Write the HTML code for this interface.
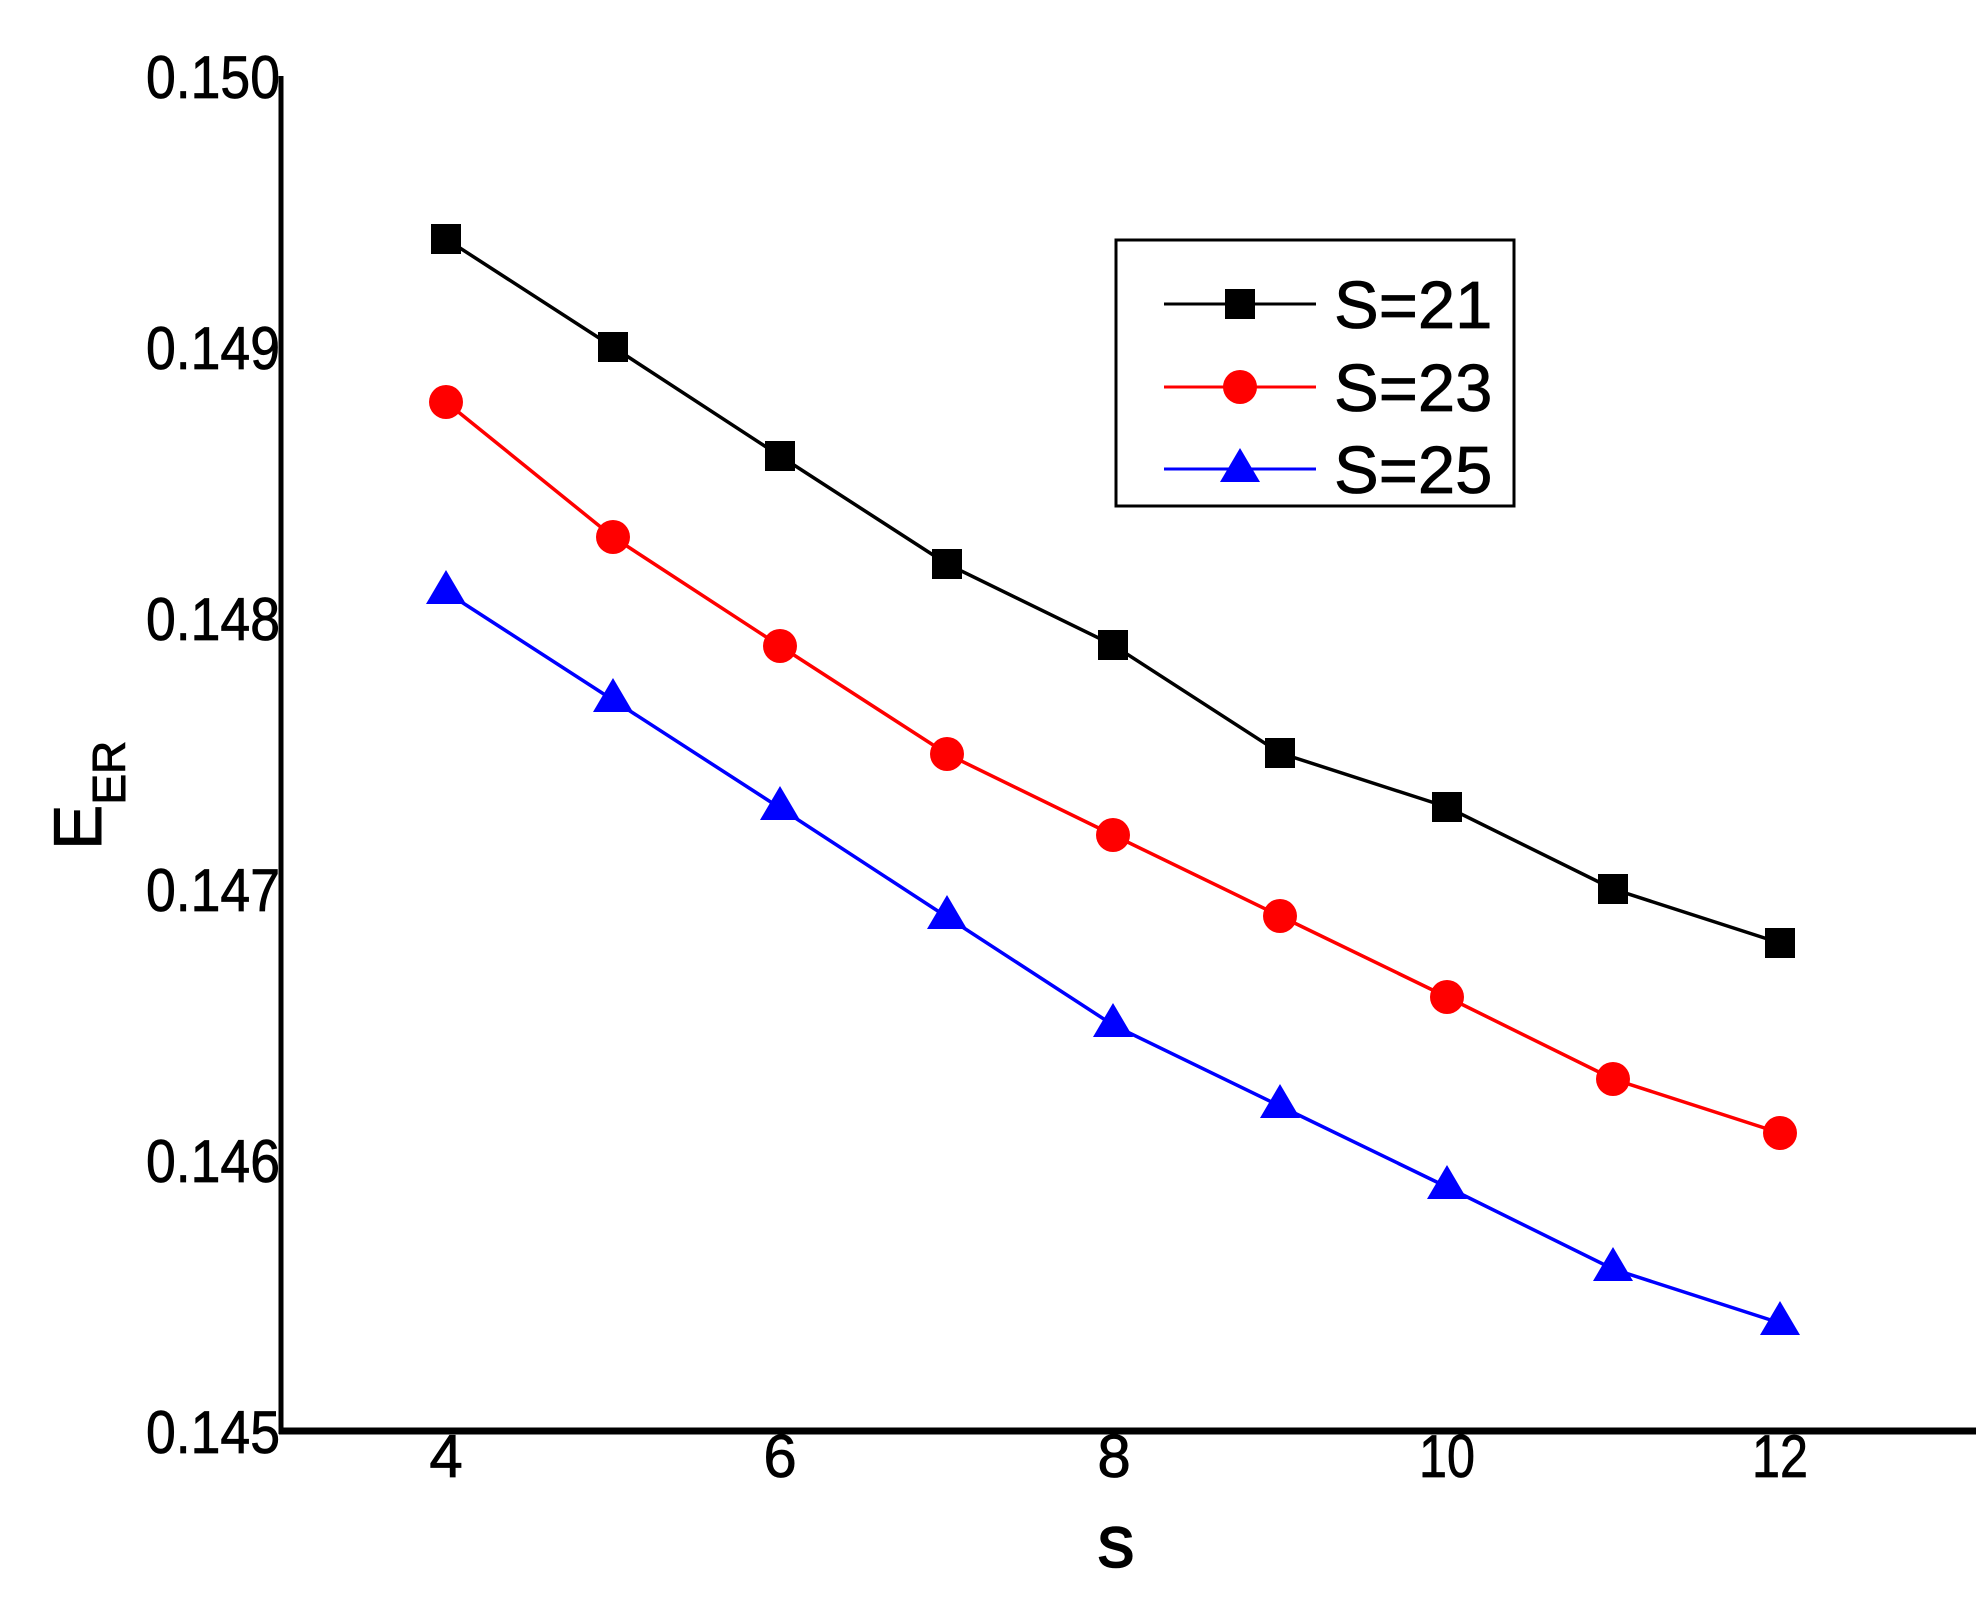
<!DOCTYPE html>
<html><head><meta charset="utf-8"><style>
html,body{margin:0;padding:0;background:#fff;}
svg{display:block;}
text{font-family:"Liberation Sans",Arial,sans-serif;fill:#000;}
</style></head><body>
<svg width="1981" height="1604" viewBox="0 0 1981 1604" xmlns="http://www.w3.org/2000/svg">
<defs>
<rect id="sq" x="-15" y="-15" width="30" height="30" fill="#000"/>
<circle id="ci" r="17" fill="#f00"/>
<polygon id="tr" points="-20,12 20,12 0,-22" fill="#00f"/>
</defs>
<line x1="281" y1="76" x2="281" y2="1434" stroke="#000" stroke-width="5"/>
<line x1="279" y1="1431" x2="1976" y2="1431" stroke="#000" stroke-width="7"/>
<g font-size="60" text-anchor="end" stroke="#000" stroke-width="0.8">
<text x="280" y="98" textLength="134" lengthAdjust="spacingAndGlyphs">0.150</text>
<text x="280" y="369" textLength="134" lengthAdjust="spacingAndGlyphs">0.149</text>
<text x="280" y="640" textLength="134" lengthAdjust="spacingAndGlyphs">0.148</text>
<text x="280" y="911" textLength="134" lengthAdjust="spacingAndGlyphs">0.147</text>
<text x="280" y="1182" textLength="134" lengthAdjust="spacingAndGlyphs">0.146</text>
<text x="280" y="1453" textLength="134" lengthAdjust="spacingAndGlyphs">0.145</text>
</g>
<g font-size="60" text-anchor="middle" stroke="#000" stroke-width="0.8">
<text x="446" y="1477">4</text>
<text x="780" y="1477">6</text>
<text x="1114" y="1477">8</text>
<text x="1447" y="1477" textLength="56" lengthAdjust="spacingAndGlyphs">10</text>
<text x="1780" y="1477" textLength="56" lengthAdjust="spacingAndGlyphs">12</text>
</g>
<text x="1116" y="1567" font-size="74" text-anchor="middle" stroke="#000" stroke-width="1.5">s</text>
<g transform="translate(101,850) rotate(-90)">
<text x="0" y="0" font-size="68" stroke="#000" stroke-width="1">E<tspan font-size="46" dy="24">ER</tspan></text>
</g>
<g fill="none" stroke-width="3.5">
<polyline stroke="#000" points="446,239 613,347 780,456 947,564 1113,645 1280,753 1447,807 1613,889 1780,943"/>
<polyline stroke="#f00" points="446,402 613,537 780,646 947,754 1113,835 1280,916 1447,997 1613,1079 1780,1133"/>
<polyline stroke="#00f" points="446,592 613,700 780,808 947,917 1113,1025 1280,1106 1447,1187 1613,1269 1780,1323"/>
</g>
<g>
<use href="#sq" x="446" y="239"/><use href="#sq" x="613" y="347"/><use href="#sq" x="780" y="456"/><use href="#sq" x="947" y="564"/><use href="#sq" x="1113" y="645"/><use href="#sq" x="1280" y="753"/><use href="#sq" x="1447" y="807"/><use href="#sq" x="1613" y="889"/><use href="#sq" x="1780" y="943"/>
<use href="#ci" x="446" y="402"/><use href="#ci" x="613" y="537"/><use href="#ci" x="780" y="646"/><use href="#ci" x="947" y="754"/><use href="#ci" x="1113" y="835"/><use href="#ci" x="1280" y="916"/><use href="#ci" x="1447" y="997"/><use href="#ci" x="1613" y="1079"/><use href="#ci" x="1780" y="1133"/>
<use href="#tr" x="446" y="592"/><use href="#tr" x="613" y="700"/><use href="#tr" x="780" y="808"/><use href="#tr" x="947" y="917"/><use href="#tr" x="1113" y="1025"/><use href="#tr" x="1280" y="1106"/><use href="#tr" x="1447" y="1187"/><use href="#tr" x="1613" y="1269"/><use href="#tr" x="1780" y="1323"/>
</g>
<rect x="1116" y="240" width="398" height="266" fill="#fff" stroke="#000" stroke-width="3"/>
<line x1="1164" y1="304" x2="1316" y2="304" stroke="#000" stroke-width="3"/>
<line x1="1164" y1="387" x2="1316" y2="387" stroke="#f00" stroke-width="3"/>
<line x1="1164" y1="469" x2="1316" y2="469" stroke="#00f" stroke-width="3"/>
<use href="#sq" x="1240" y="304"/>
<use href="#ci" x="1240" y="387"/>
<use href="#tr" x="1240" y="470"/>
<g font-size="67" stroke="#000" stroke-width="0.8">
<text x="1334" y="328">S=21</text>
<text x="1334" y="411">S=23</text>
<text x="1334" y="493">S=25</text>
</g>
</svg>
</body></html>
